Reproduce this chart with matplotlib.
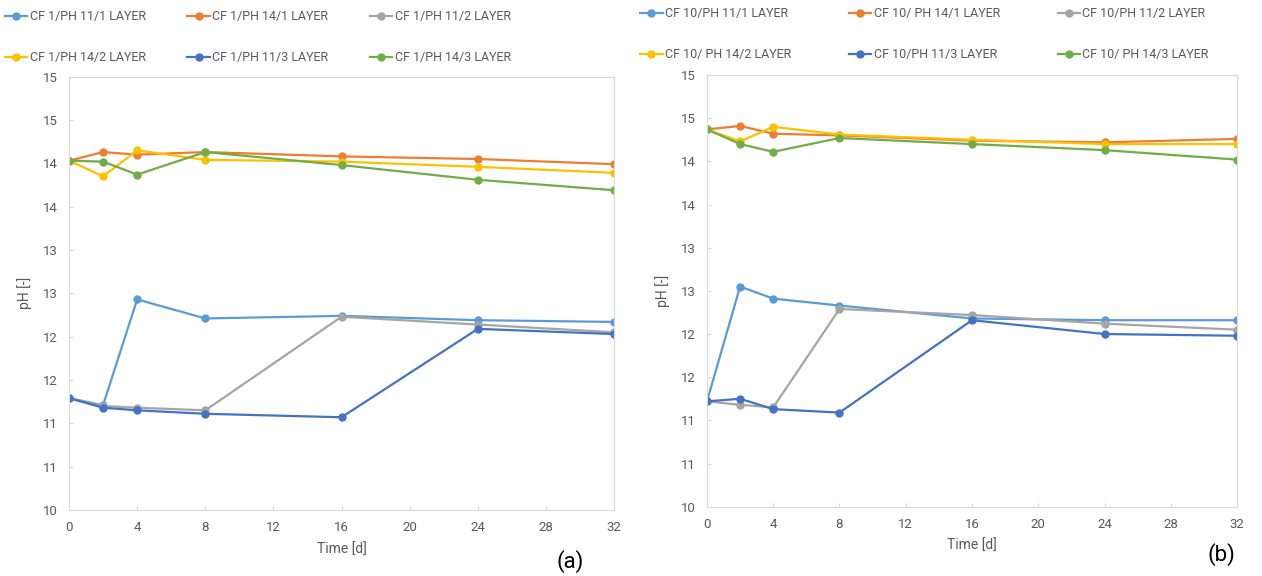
import matplotlib.pyplot as plt

plt.rcParams['font.family'] = ['Roboto', 'DejaVu Sans']

# data
days = [0, 2, 4, 8, 16, 24, 32]

labels_a = ["CF 1/PH 11/1 LAYER", "CF 1/PH 14/1 LAYER", "CF 1/PH 11/2 LAYER",
            "CF 1/PH 14/2 LAYER", "CF 1/PH 11/3 LAYER", "CF 1/PH 14/3 LAYER"]
labels_b = ["CF 10/PH 11/1 LAYER", "CF 10/ PH 14/1 LAYER", "CF 10/PH 11/2 LAYER",
            "CF 10/ PH 14/2 LAYER", "CF 10/PH 11/3 LAYER", "CF 10/ PH 14/3 LAYER"]

a_ph11_1 = [11.29, 11.21, 12.43, 12.21, 12.24, 12.19, 12.17]
a_ph14_1 = [14.03, 14.13, 14.10, 14.13, 14.08, 14.05, 13.99]
a_ph11_2 = [11.29, 11.20, 11.18, 11.15, 12.23, 12.14, 12.05]
a_ph14_2 = [14.03, 13.85, 14.15, 14.04, 14.02, 13.96, 13.89]
a_ph11_3 = [11.29, 11.18, 11.15, 11.11, 11.07, 12.09, 12.03]
a_ph14_3 = [14.03, 14.02, 13.87, 14.13, 13.98, 13.81, 13.69]

b_ph11_1 = [11.22, 12.55, 12.41, 12.33, 12.18, 12.16, 12.16]
b_ph14_1 = [14.37, 14.41, 14.32, 14.30, 14.24, 14.22, 14.26]
b_ph11_2 = [11.22, 11.18, 11.15, 12.29, 12.22, 12.12, 12.05]
b_ph14_2 = [14.37, 14.23, 14.40, 14.31, 14.25, 14.20, 14.20]
b_ph11_3 = [11.22, 11.25, 11.13, 11.09, 12.16, 12.00, 11.98]
b_ph14_3 = [14.37, 14.20, 14.11, 14.27, 14.20, 14.13, 14.02]

xticks = [0, 4, 8, 12, 16, 20, 24, 28, 32]
yticks = [10, 10.5, 11, 11.5, 12, 12.5, 13, 13.5, 14, 14.5, 15]
ytick_labels = ["10", "11", "11", "12", "12", "13", "13", "14", "14", "15", "15"]

colors = ["#5B9BD5", "#ED7D31", "#A5A5A5", "#FFC000", "#4472C4", "#70AD47"]
grey = "#595959"
edge = "#D9D9D9"

W, H = 1262, 576
fig = plt.figure(figsize=(12.62, 5.76), dpi=100)
ax_a = fig.add_axes([0.0547, 0.1146, 0.4319, 0.7523])
ax_b = fig.add_axes([0.5602, 0.1203, 0.4200, 0.7495])


def draw(ax, series, labels, tag, tag_px, leg_px, colspace):
    handles = []
    for vals, lab, c in zip(series, labels, colors):
        h, = ax.plot(days, vals, color=c, lw=1.6, marker='o', ms=5, label=lab)
        handles.append(h)
    ax.set_xlim(0, 32)
    ax.set_ylim(10, 15)
    ax.set_xticks(xticks)
    ax.set_yticks(yticks)
    ax.set_yticklabels(ytick_labels)
    ax.tick_params(direction='in', length=3, color=edge, labelcolor=grey,
                   labelsize=9.5, pad=8)
    for s in ax.spines.values():
        s.set_color(edge)
    ax.set_xlabel("Time [d]", color=grey, fontsize=10, labelpad=6)
    ax.set_ylabel("pH [-]", color=grey, fontsize=10, labelpad=8)
    # legend fills column-first, so reorder to get the two rows of three
    order = [0, 3, 1, 4, 2, 5]
    fig.legend([handles[i] for i in order], [labels[i] for i in order],
               ncol=3, frameon=False, fontsize=9, labelcolor=grey,
               loc='upper left',
               bbox_to_anchor=(leg_px[0] / W, 1 - leg_px[1] / H),
               handlelength=1.8, handletextpad=0.2, columnspacing=colspace,
               labelspacing=2.25, borderaxespad=0, borderpad=0)
    fig.text(tag_px[0] / W, 1 - tag_px[1] / H, tag, fontsize=16,
             color='black', ha='center', va='center')


draw(ax_a, [a_ph11_1, a_ph14_1, a_ph11_2, a_ph14_2, a_ph11_3, a_ph14_3],
     labels_a, "(a)", (570, 562), (5, 10), 3.3)
draw(ax_b, [b_ph11_1, b_ph14_1, b_ph11_2, b_ph14_2, b_ph11_3, b_ph14_3],
     labels_b, "(b)", (1221, 555), (640, 7), 4.6)

fig.savefig("out.png", dpi=100)
